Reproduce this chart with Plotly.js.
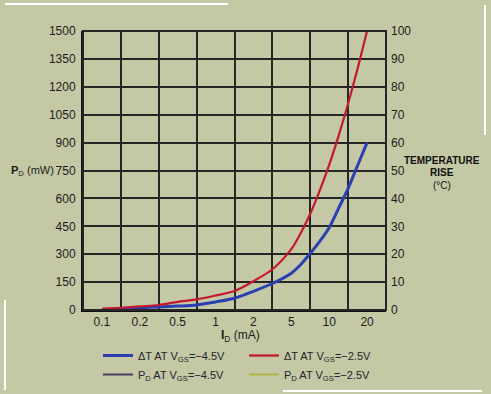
<!DOCTYPE html>
<html>
<head>
<meta charset="utf-8">
<script src="https://cdn.plot.ly/plotly-3.0.1.min.js"></script>
<style>
  html, body { margin: 0; padding: 0; background: #c4c8a5; }
  #chart { width: 491px; height: 394px; }
</style>
</head>
<body>
<div id="chart"></div>
<script>
// ---- data ----
const currentLabels = ['0.1', '0.2', '0.5', '1', '2', '5', '10', '20'];   // I_D (mA), equally spaced columns
const columnIndex = [0, 1, 2, 3, 4, 5, 6, 7];
const columnBoundaries = [-0.5, 0.5, 1.5, 2.5, 3.5, 4.5, 5.5, 6.5, 7.5];
// curve sample positions, in column units (0 = 0.1 mA column, 7 = 20 mA column)
const curvePos = [0, 0.5, 1, 1.5, 2, 2.5, 3, 3.5, 4, 4.5, 5, 5.25, 5.5, 5.75, 6, 6.25, 6.5, 6.75, 7];
// temperature rise (°C)
const dT_vgs_m45 = [0.2, 0.5, 0.8, 1.1, 1.4, 1.8, 2.9, 4.2, 6.7, 9.5, 13.2, 16.3, 20.3, 24.6, 29.5, 36.5, 43.6, 51.8, 60];
const dT_vgs_m25 = [0.4, 0.8, 1.3, 1.8, 2.9, 3.8, 5.2, 6.8, 10.3, 14.6, 21.8, 27.6, 34.5, 42.8, 52, 62.5, 74, 86.5, 100];
const pdTicks = [0, 150, 300, 450, 600, 750, 900, 1050, 1200, 1350, 1500];
const tempTicks = [0, 10, 20, 30, 40, 50, 60, 70, 80, 90, 100];

// ---- geometry helpers ----
const W = 491, H = 394, ML = 83, MR = 105, MT = 31, MB = 84;
const PW = W - ML - MR, PH = H - MT - MB;
const px = x => (x - ML) / PW;
const py = y => (H - MB - y) / PH;

const BG = '#c4c8a5';
const INK = '#1c1c1c';
const GRID = '#262626';
const FONT = 'Liberation Sans, Arial, sans-serif';

const traces = [
  {
    x: curvePos, y: dT_vgs_m45, yaxis: 'y2', type: 'scatter', mode: 'lines',
    name: 'ΔT AT V<sub>GS</sub>=−4.5V', legend: 'legend',
    line: { color: '#2a40b2', width: 3, shape: 'spline', smoothing: 0.8 }
  },
  {
    x: [null], y: [null], type: 'scatter', mode: 'lines',
    name: 'P<sub>D</sub> AT V<sub>GS</sub>=−4.5V', legend: 'legend',
    line: { color: '#4e3d63', width: 2 }
  },
  {
    x: curvePos, y: dT_vgs_m25, yaxis: 'y2', type: 'scatter', mode: 'lines',
    name: 'ΔT AT V<sub>GS</sub>=−2.5V', legend: 'legend2',
    line: { color: '#c4182e', width: 2.2, shape: 'spline', smoothing: 0.8 }
  },
  {
    x: [null], y: [null], type: 'scatter', mode: 'lines',
    name: 'P<sub>D</sub> AT V<sub>GS</sub>=−2.5V', legend: 'legend2',
    line: { color: '#b3b244', width: 2 }
  }
];

const legendCommon = {
  orientation: 'v', bgcolor: 'rgba(0,0,0,0)', borderwidth: 0,
  font: { family: FONT, size: 11, color: '#24242e' },
  xref: 'container', yref: 'container', xanchor: 'left', yanchor: 'top',
  tracegroupgap: 0, itemwidth: 30
};

const layout = {
  width: W, height: H,
  margin: { l: ML, r: MR, t: MT, b: MB, pad: 0, autoexpand: false },
  paper_bgcolor: BG, plot_bgcolor: BG,
  font: { family: FONT, size: 12, color: INK },
  showlegend: true,
  legend: Object.assign({}, legendCommon, { x: 98 / W, y: 1 - 341 / H }),
  legend2: Object.assign({}, legendCommon, { x: 244 / W, y: 1 - 341 / H }),
  xaxis: {
    range: [-0.5, 7.5], tickmode: 'array', tickvals: columnIndex, ticktext: currentLabels,
    showgrid: false, zeroline: false, ticks: '', ticklabelstandoff: 0, automargin: false,
    showline: true, linecolor: '#111', linewidth: 2,
    tickfont: { family: FONT, size: 12, color: INK },
    minor: { tickmode: 'array', tickvals: columnBoundaries, showgrid: true, gridcolor: GRID, gridwidth: 2, ticks: '' }
  },
  yaxis: {
    range: [0, 1500], tickmode: 'array', tickvals: pdTicks, automargin: false,
    showgrid: true, gridcolor: GRID, gridwidth: 2, zeroline: false, ticks: '',
    showline: true, linecolor: '#111', linewidth: 2, ticklabelstandoff: 3,
    tickfont: { family: FONT, size: 12, color: INK }
  },
  yaxis2: {
    overlaying: 'y', side: 'right', range: [0, 100], tickmode: 'array', tickvals: tempTicks, automargin: false,
    showgrid: false, zeroline: false, ticks: '', showline: false, ticklabelstandoff: 4,
    tickfont: { family: FONT, size: 12, color: INK }
  },
  shapes: [
    { type: 'rect', xref: 'paper', yref: 'paper', x0: 0, x1: 1, y0: 0, y1: 1, line: { color: GRID, width: 2 } },
    { type: 'line', xref: 'paper', yref: 'paper', x0: px(5), x1: px(228), y0: py(4), y1: py(4), line: { color: '#ffffff', width: 2 } },
    { type: 'line', xref: 'paper', yref: 'paper', x0: px(485), x1: px(485), y0: py(5), y1: py(135), line: { color: '#ffffff', width: 2 } },
    { type: 'line', xref: 'paper', yref: 'paper', x0: px(5), x1: px(5), y0: py(300), y1: py(390), line: { color: '#ffffff', width: 2 } },
    { type: 'line', xref: 'paper', yref: 'paper', x0: px(283), x1: px(482), y0: py(391), y1: py(391), line: { color: '#ffffff', width: 2 } }
  ],
  annotations: [
    { xref: 'paper', yref: 'paper', x: px(56), y: py(171), xanchor: 'right', yanchor: 'middle', showarrow: false,
      text: '<b>P</b><sub>D</sub> (mW)', font: { family: FONT, size: 11, color: INK } },
    { xref: 'paper', yref: 'paper', x: px(240), y: py(336), xanchor: 'center', yanchor: 'middle', showarrow: false,
      text: '<b>I</b><sub>D</sub> (mA)', font: { family: FONT, size: 12, color: INK } },
    { xref: 'paper', yref: 'paper', x: px(442), y: py(160), xanchor: 'center', yanchor: 'middle', showarrow: false,
      text: '<b>TEMPERATURE</b>', font: { family: FONT, size: 10, color: '#111' } },
    { xref: 'paper', yref: 'paper', x: px(442), y: py(173), xanchor: 'center', yanchor: 'middle', showarrow: false,
      text: '<b>RISE</b>', font: { family: FONT, size: 10, color: '#111' } },
    { xref: 'paper', yref: 'paper', x: px(442), y: py(185), xanchor: 'center', yanchor: 'middle', showarrow: false,
      text: '(°C)', font: { family: FONT, size: 10, color: '#111' } }
  ]
};

Plotly.newPlot('chart', traces, layout, { staticPlot: true, displayModeBar: false });
</script>
</body>
</html>
